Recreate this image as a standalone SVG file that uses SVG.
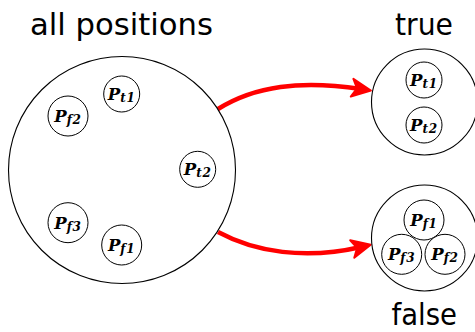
<svg xmlns="http://www.w3.org/2000/svg" width="475" height="332" viewBox="0 0 475 332">
<style>
.set{fill:#fff;stroke:#000;stroke-width:1.1}
.el{fill:#fff;stroke:#000;stroke-width:1}
.title{font-family:"DejaVu Sans","Liberation Sans",sans-serif;font-size:30px;fill:#000}
.lab{font-family:"DejaVu Serif","Liberation Serif",serif;font-style:italic;font-weight:bold;font-size:16.5px;fill:#000}
.sub{font-size:12px;letter-spacing:0.8px}
.arrow{fill:none;stroke:#ff0000;stroke-width:4.5}
</style>
<defs>
<marker id="ah" markerUnits="userSpaceOnUse" markerWidth="30" markerHeight="30" refX="0" refY="0" viewBox="-20 -15 30 30" orient="auto" overflow="visible">
<path d="M10,0 L-9,-9 L-4,0 L-9,9 Z" fill="#ff0000" stroke="#ff0000" stroke-width="2" stroke-linejoin="round"/>
</marker>
</defs>
<g id="connectors">
<path class="arrow" d="M218,109 C255,86 300,80 361,89" marker-end="url(#ah)"/>
<path class="arrow" d="M218,232 C255,252 305,260 361,247" marker-end="url(#ah)"/>
</g>
<g id="all">
<circle class="set" cx="122" cy="170" r="113.5"/>
<text class="title" x="121.5" y="35" text-anchor="middle" textLength="183" lengthAdjust="spacingAndGlyphs">all positions</text>
</g>
<g id="true">
<circle class="set" cx="424.5" cy="102" r="53"/>
<text class="title" x="424" y="35" text-anchor="middle" textLength="58" lengthAdjust="spacingAndGlyphs">true</text>
</g>
<g id="false">
<circle class="set" cx="424.5" cy="238" r="53"/>
<text class="title" x="424.3" y="325" text-anchor="middle" textLength="65.5" lengthAdjust="spacingAndGlyphs">false</text>
</g>
<g id="all-pt1"><circle class="el" cx="121.7" cy="94" r="18"/><text class="lab" x="121.7" y="100" text-anchor="middle">P<tspan class="sub" dy="2">t1</tspan></text></g>
<g id="all-pf2"><circle class="el" cx="68" cy="116" r="20"/><text class="lab" x="68" y="122" text-anchor="middle">P<tspan class="sub" dy="2">f2</tspan></text></g>
<g id="all-pt2"><circle class="el" cx="197.7" cy="169.3" r="18"/><text class="lab" x="197.7" y="175.3" text-anchor="middle">P<tspan class="sub" dy="2">t2</tspan></text></g>
<g id="all-pf3"><circle class="el" cx="68" cy="222.7" r="20"/><text class="lab" x="68" y="228.7" text-anchor="middle">P<tspan class="sub" dy="2">f3</tspan></text></g>
<g id="all-pf1"><circle class="el" cx="121.7" cy="245" r="20"/><text class="lab" x="121.7" y="251" text-anchor="middle">P<tspan class="sub" dy="2">f1</tspan></text></g>
<g id="true-pt1"><circle class="el" cx="424" cy="80" r="18"/><text class="lab" x="424" y="86" text-anchor="middle">P<tspan class="sub" dy="2">t1</tspan></text></g>
<g id="true-pt2"><circle class="el" cx="424" cy="125" r="18"/><text class="lab" x="424" y="131" text-anchor="middle">P<tspan class="sub" dy="2">t2</tspan></text></g>
<g id="false-pf1"><circle class="el" cx="424" cy="220" r="20"/><text class="lab" x="424" y="226" text-anchor="middle">P<tspan class="sub" dy="2">f1</tspan></text></g>
<g id="false-pf3"><circle class="el" cx="401.7" cy="254.3" r="20"/><text class="lab" x="401.7" y="260.3" text-anchor="middle">P<tspan class="sub" dy="2">f3</tspan></text></g>
<g id="false-pf2"><circle class="el" cx="445" cy="254.3" r="20"/><text class="lab" x="445" y="260.3" text-anchor="middle">P<tspan class="sub" dy="2">f2</tspan></text></g>
</svg>
